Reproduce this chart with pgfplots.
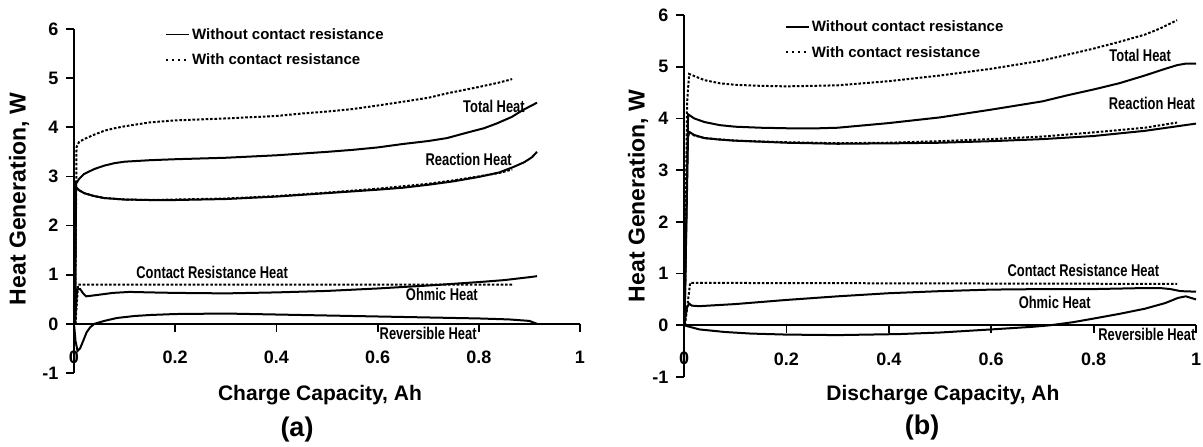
\documentclass[border=0pt]{standalone}
\usepackage{fontspec}
\setmainfont{Liberation Sans}
\newfontfamily\narrowfont{Liberation Sans}[FakeStretch=0.76]
\usepackage{pgfplots}
\pgfplotsset{compat=1.18}
\tikzset{
  dotline/.style={dash pattern=on 2.6pt off 1.8pt, line width=2pt},
  lbl/.style={font=\narrowfont\bfseries\fontsize{17}{19}\selectfont, inner sep=0pt},
  tlbl/.style={font=\bfseries\fontsize{18}{20}\selectfont, inner sep=0pt},
}
\pgfplotsset{
  panel/.style={
    scale only axis, clip=false,
    axis x line*=middle, axis y line*=left,
    xmin=0, xmax=1, ymin=-1, ymax=6,
    xtick={0,0.2,0.4,0.6,0.8,1}, ytick={-1,0,1,2,3,4,5,6},
    tick align=outside, major tick length=8pt,
    axis line style={line width=1.8pt, black},
    every tick/.style={line width=1.8pt, black},
    ticklabel style={font=\bfseries\fontsize{18}{20}\selectfont},
    /pgf/number format/assume math mode=true,
    xticklabel style={yshift=-16pt},
    yticklabel style={xshift=-4pt},
    every axis plot/.append style={line width=2pt, black},
    legend style={draw=none, fill=none, inner sep=0pt, row sep=9pt,
      font=\bfseries\fontsize{15}{17}\selectfont, cells={anchor=west}},
    legend image code/.code={\draw[#1] (0pt,0pt) -- (23pt,0pt);},
  },
}
\begin{document}
\begin{tikzpicture}
\useasboundingbox (0,0) rectangle (1203pt,447pt);
% ---------------- (a) charge ----------------
\begin{axis}[panel, width=506pt, height=344pt, at={(74pt,74pt)}, anchor=south west,
  legend style={at={(axis cs:0.18,6.06)}, anchor=north west}]
\addlegendimage{solid, line width=1.8pt}
\addlegendentry{Without contact resistance}
\addlegendimage{dash pattern=on 2pt off 4pt, line width=1.8pt}
\addlegendentry{With contact resistance}
% total heat without
\addplot[forget plot] coordinates {(0.002,0) (0.004,2.85) (0.01,2.95) (0.02,3.05) (0.04,3.15) (0.06,3.22) (0.08,3.27) (0.1,3.3) (0.15,3.33) (0.2,3.35) (0.3,3.38) (0.4,3.43) (0.5,3.5) (0.55,3.54) (0.6,3.59) (0.65,3.66) (0.7,3.72) (0.737,3.78) (0.78,3.9) (0.81,3.98) (0.836,4.08) (0.865,4.21) (0.887,4.35) (0.9,4.42) (0.915,4.5)};
% total heat with
\addplot[forget plot, dotline] coordinates {(0.002,0) (0.005,3.6) (0.01,3.7) (0.02,3.76) (0.04,3.85) (0.06,3.93) (0.08,3.98) (0.1,4.02) (0.15,4.1) (0.2,4.14) (0.3,4.18) (0.4,4.23) (0.45,4.28) (0.5,4.32) (0.55,4.37) (0.605,4.45) (0.65,4.52) (0.7,4.6) (0.737,4.69) (0.8,4.82) (0.84,4.91) (0.866,4.98)};
% reaction heat without
\addplot[forget plot] coordinates {(0.002,0) (0.004,2.78) (0.01,2.72) (0.02,2.66) (0.04,2.6) (0.06,2.56) (0.1,2.53) (0.15,2.52) (0.2,2.52) (0.3,2.54) (0.4,2.59) (0.5,2.66) (0.6,2.73) (0.65,2.77) (0.7,2.83) (0.75,2.9) (0.8,2.99) (0.84,3.08) (0.868,3.19) (0.89,3.29) (0.905,3.39) (0.915,3.5)};
% reaction heat with
\addplot[forget plot, dotline] coordinates {(0.004,2.78) (0.01,2.72) (0.02,2.66) (0.04,2.6) (0.06,2.56) (0.1,2.53) (0.15,2.52) (0.2,2.53) (0.3,2.55) (0.4,2.6) (0.5,2.67) (0.6,2.75) (0.7,2.85) (0.75,2.92) (0.8,3.0) (0.84,3.07) (0.866,3.14)};
% contact resistance heat
\addplot[forget plot, dotline] coordinates {(0.003,0) (0.008,0.8) (0.866,0.8)};
% ohmic heat
\addplot[forget plot] coordinates {(0.002,0) (0.006,0.7) (0.012,0.71) (0.018,0.62) (0.024,0.56) (0.04,0.58) (0.077,0.63) (0.11,0.65) (0.15,0.64) (0.2,0.63) (0.3,0.62) (0.4,0.64) (0.5,0.67) (0.6,0.72) (0.7,0.78) (0.8,0.85) (0.85,0.89) (0.9,0.95) (0.915,0.97)};
% reversible heat
\addplot[forget plot] coordinates {(0,0) (0.003,-0.35) (0.007,-0.55) (0.012,-0.5) (0.02,-0.3) (0.025,-0.17) (0.032,-0.07) (0.04,0) (0.06,0.06) (0.085,0.12) (0.12,0.16) (0.15,0.18) (0.2,0.2) (0.3,0.21) (0.4,0.19) (0.5,0.17) (0.6,0.15) (0.7,0.13) (0.8,0.11) (0.86,0.09) (0.9,0.06) (0.915,0)};
\node[lbl] at (axis cs:0.83,4.43) {Total Heat};
\node[lbl] at (axis cs:0.78,3.35) {Reaction Heat};
\node[lbl] at (axis cs:0.273,1.04) {Contact Resistance Heat};
\node[lbl] at (axis cs:0.727,0.59) {Ohmic Heat};
\node[lbl] at (axis cs:0.70,-0.2) {Reversible Heat};
\node[tlbl] at (axis cs:0,-0.68) {0};
\end{axis}
% ---------------- (b) discharge ----------------
\begin{axis}[panel, width=512pt, height=362pt, at={(684pt,70pt)}, anchor=south west,
  legend style={at={(axis cs:0.197,5.93)}, anchor=north west}]
\addlegendimage{solid, line width=1.8pt}
\addlegendentry{Without contact resistance}
\addlegendimage{dash pattern=on 2pt off 4pt, line width=1.8pt}
\addlegendentry{With contact resistance}
% total heat without
\addplot[forget plot] coordinates {(0.001,0) (0.008,4.08) (0.02,4.0) (0.04,3.93) (0.07,3.87) (0.1,3.84) (0.15,3.82) (0.2,3.81) (0.265,3.81) (0.3,3.82) (0.4,3.91) (0.5,4.02) (0.6,4.17) (0.7,4.33) (0.75,4.45) (0.8,4.56) (0.85,4.68) (0.9,4.83) (0.94,4.96) (0.963,5.03) (0.98,5.06) (1.0,5.06)};
% total heat with
\addplot[forget plot, dotline] coordinates {(0.001,0) (0.006,4.3) (0.01,4.86) (0.02,4.82) (0.04,4.74) (0.07,4.68) (0.1,4.65) (0.15,4.63) (0.2,4.62) (0.3,4.64) (0.4,4.72) (0.5,4.83) (0.6,4.96) (0.7,5.12) (0.8,5.35) (0.85,5.48) (0.9,5.62) (0.93,5.74) (0.963,5.9)};
% reaction heat without
\addplot[forget plot] coordinates {(0.001,0) (0.008,3.75) (0.02,3.68) (0.04,3.62) (0.07,3.59) (0.1,3.57) (0.2,3.53) (0.3,3.51) (0.42,3.52) (0.5,3.53) (0.6,3.56) (0.7,3.6) (0.8,3.66) (0.9,3.76) (0.95,3.83) (1.0,3.9)};
% reaction heat with
\addplot[forget plot, dotline] coordinates {(0.001,0) (0.006,3.5) (0.01,3.74) (0.02,3.67) (0.04,3.62) (0.1,3.57) (0.2,3.54) (0.3,3.52) (0.4,3.53) (0.5,3.56) (0.6,3.6) (0.7,3.65) (0.8,3.73) (0.9,3.82) (0.963,3.92)};
% contact resistance heat
\addplot[forget plot, dotline] coordinates {(0.002,0) (0.012,0.82) (0.963,0.8)};
% ohmic heat
\addplot[forget plot] coordinates {(0,0) (0.006,0.35) (0.01,0.42) (0.015,0.38) (0.03,0.37) (0.1,0.41) (0.2,0.49) (0.3,0.56) (0.4,0.62) (0.5,0.66) (0.6,0.69) (0.7,0.7) (0.8,0.7) (0.9,0.72) (0.93,0.72) (0.95,0.7) (0.97,0.66) (1.0,0.65)};
% reversible heat
\addplot[forget plot] coordinates {(0,0) (0.03,-0.08) (0.08,-0.13) (0.13,-0.16) (0.2,-0.18) (0.3,-0.19) (0.42,-0.17) (0.5,-0.14) (0.6,-0.08) (0.68,-0.03) (0.715,0) (0.76,0.06) (0.8,0.13) (0.85,0.22) (0.9,0.32) (0.94,0.43) (0.965,0.53) (0.98,0.56) (1.0,0.5)};
\node[lbl] at (axis cs:0.891,5.22) {Total Heat};
\node[lbl] at (axis cs:0.914,4.29) {Reaction Heat};
\node[lbl] at (axis cs:0.78,1.06) {Contact Resistance Heat};
\node[lbl] at (axis cs:0.724,0.445) {Ohmic Heat};
\node[lbl] at (axis cs:0.904,-0.17) {Reversible Heat};
\node[tlbl] at (axis cs:0,-0.64) {0};
\end{axis}
% ---------------- axis titles ----------------
\node[font=\bfseries\fontsize{21}{24}\selectfont] at (320pt,52pt) {Charge Capacity, Ah};
\node[font=\bfseries\fontsize{21}{24}\selectfont] at (943pt,52pt) {Discharge Capacity, Ah};
\node[font=\bfseries\fontsize{23}{26}\selectfont, rotate=90] at (19pt,248pt) {Heat Generation, W};
\node[font=\bfseries\fontsize{23}{26}\selectfont, rotate=90] at (638pt,251pt) {Heat Generation, W};
\node[font=\bfseries\fontsize{27}{30}\selectfont] at (297pt,17pt) {(a)};
\node[font=\bfseries\fontsize{27}{30}\selectfont] at (922pt,19pt) {(b)};
\end{tikzpicture}
\end{document}
